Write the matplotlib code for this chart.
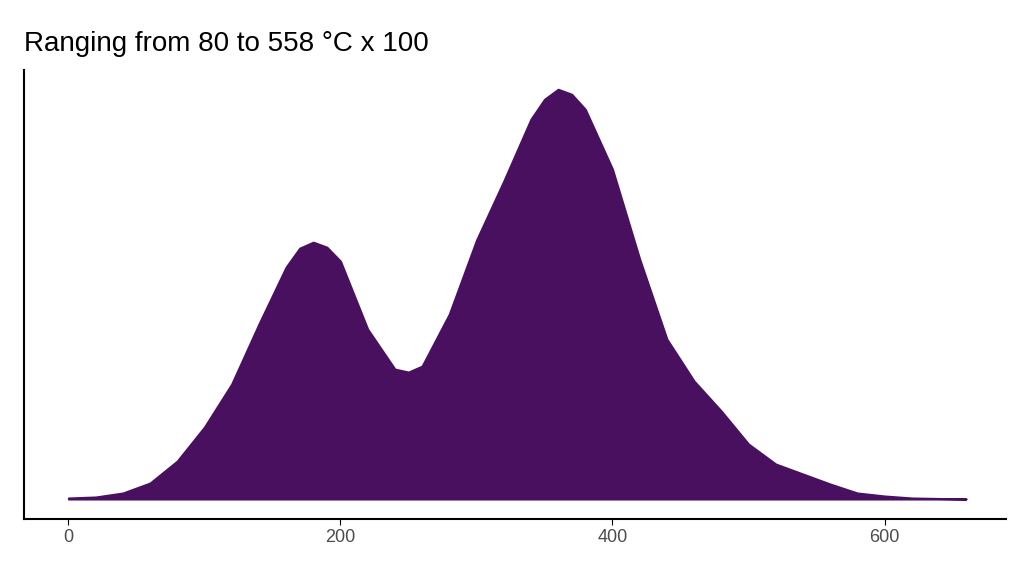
import matplotlib.pyplot as plt
import numpy as np

# density curve (relative heights)
temp = [0, 20, 40, 60, 80, 100, 120, 140, 160, 170, 180, 190, 200, 220, 240, 250, 260, 280,
        300, 320, 340, 350, 360, 370, 380, 400, 420, 440, 460, 480, 500, 520, 540, 560,
        580, 600, 620, 660]
dens = [1, 2, 6, 16, 38, 72, 115, 175, 232, 251, 257, 252, 238, 170, 130, 127, 133, 185,
        259, 318, 380, 400, 410, 405, 390, 330, 240, 160, 118, 88, 55, 35, 25, 15,
        6, 3, 1, 0]

plt.rcParams['font.family'] = ['Liberation Sans', 'DejaVu Sans']
fig, ax = plt.subplots(figsize=(10.24, 5.76), dpi=100)
fig.subplots_adjust(left=0.023, right=0.982, top=0.878, bottom=0.099)

ax.fill_between(temp, dens, 0, color='#48105e', lw=1.5, edgecolor='#48105e')
ax.set_xlim(-33, 689)
ax.set_ylim(-20, 429)
ax.set_xticks([0, 200, 400, 600])
ax.set_yticks([])
ax.tick_params(axis='x', labelsize=13, colors='#4d4d4d', length=4)
ax.tick_params(axis='x', color='black')
for s in ['top', 'right']:
    ax.spines[s].set_visible(False)
for s in ['left', 'bottom']:
    ax.spines[s].set_linewidth(1.5)
ax.set_title("Ranging from 80 to 558 °C x 100", loc='left', fontsize=20, x=0.0, pad=14)

fig.savefig("out.png")
